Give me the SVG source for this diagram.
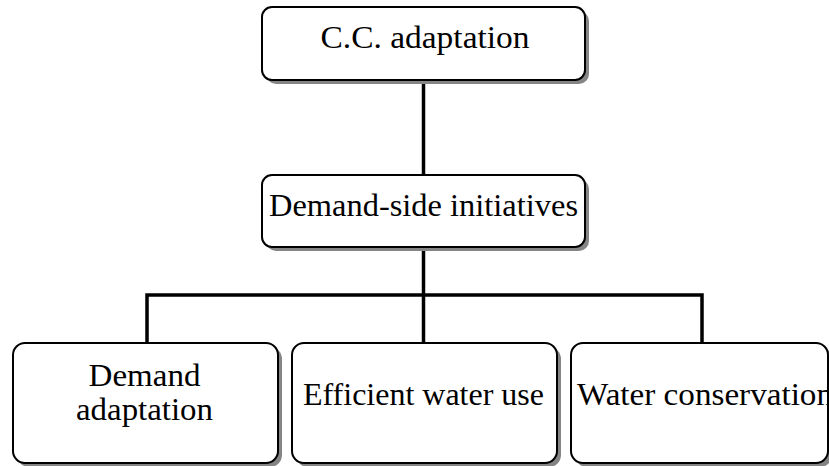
<svg xmlns="http://www.w3.org/2000/svg" width="829" height="466" viewBox="0 0 829 466">
<style>
.shadow{fill:#858585;stroke:none}
.box{fill:#fff;stroke:#000;stroke-width:2}
.lbl{font-family:"Liberation Serif","Times New Roman",serif;font-size:32px;fill:#000;text-anchor:middle}
.conn{stroke:#000;stroke-width:3.5;fill:none}
</style>
<rect width="829" height="466" fill="#fff"/>
<g id="connectors">
<line class="conn" x1="423.5" y1="81" x2="423.5" y2="175"/>
<line class="conn" x1="423.5" y1="247" x2="423.5" y2="343"/>
<polyline class="conn" points="147,343 147,295 702,295 702,343"/>
</g>
<g id="cc-adaptation">
<rect class="shadow" x="266" y="11" width="323" height="73" rx="10"/>
<rect class="box" x="262" y="7" width="323" height="73" rx="10"/>
<text class="lbl" x="425" y="48" textLength="209" lengthAdjust="spacingAndGlyphs">C.C. adaptation</text>
</g>
<g id="demand-side">
<rect class="shadow" x="266" y="179" width="323" height="72" rx="10"/>
<rect class="box" x="262" y="175" width="323" height="72" rx="10"/>
<text class="lbl" x="423.5" y="216" textLength="309" lengthAdjust="spacingAndGlyphs">Demand-side initiatives</text>
</g>
<g id="demand-adaptation">
<rect class="shadow" x="17" y="347" width="265" height="120" rx="12"/>
<rect class="box" x="13" y="343" width="265" height="120" rx="12"/>
<text class="lbl" x="144.5" y="386" textLength="112" lengthAdjust="spacingAndGlyphs">Demand</text>
<text class="lbl" x="144.5" y="420" textLength="137" lengthAdjust="spacingAndGlyphs">adaptation</text>
</g>
<g id="efficient-water-use">
<rect class="shadow" x="296" y="347" width="265" height="120" rx="12"/>
<rect class="box" x="292" y="343" width="265" height="120" rx="12"/>
<text class="lbl" x="423.5" y="405" textLength="241" lengthAdjust="spacingAndGlyphs">Efficient water use</text>
</g>
<g id="water-conservation">
<rect class="shadow" x="575" y="347" width="257" height="120" rx="12"/>
<rect class="box" x="571" y="343" width="257" height="120" rx="12"/>
<text class="lbl" x="705" y="405" textLength="256" lengthAdjust="spacingAndGlyphs">Water conservation</text>
</g>
</svg>
